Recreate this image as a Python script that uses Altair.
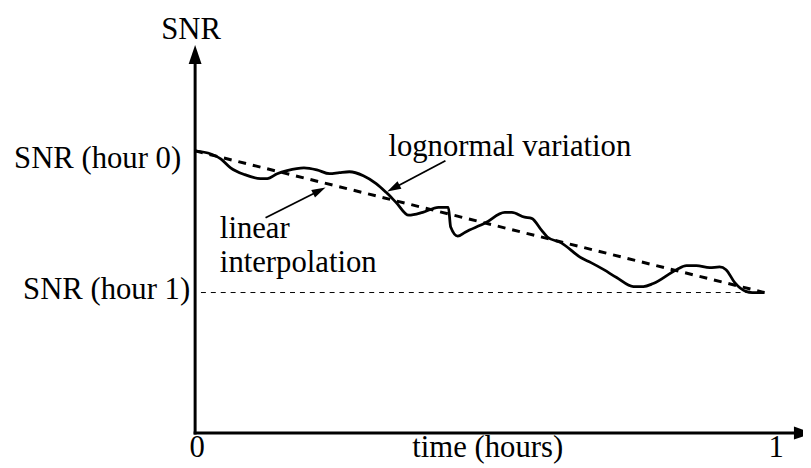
import math
import altair as alt
import pandas as pd

# ---- data (time in hours, SNR in arbitrary units) ----
snr_hour0 = 10.0
snr_hour1 = 4.98
t_end = 0.978

curve_t = [0.0, 0.027, 0.044, 0.061, 0.085, 0.112, 0.124, 0.141, 0.158, 0.187,
           0.209, 0.231, 0.248, 0.265, 0.289, 0.311, 0.328, 0.345, 0.367, 0.391,
           0.418, 0.435, 0.439, 0.451, 0.464, 0.498, 0.532, 0.544, 0.566, 0.578,
           0.595, 0.605, 0.629, 0.663, 0.680, 0.702, 0.724, 0.753, 0.770, 0.787,
           0.827, 0.844, 0.861, 0.884, 0.901, 0.912, 0.927, 0.946, 0.957, 0.978]
curve_snr = [10.0, 9.89, 9.72, 9.40, 9.16, 9.02, 9.02, 9.19, 9.30, 9.40,
             9.33, 9.19, 9.23, 9.26, 9.12, 8.84, 8.53, 8.18, 7.72, 7.82,
             8.00, 8.00, 7.30, 6.98, 7.12, 7.44, 7.82, 7.82, 7.65, 7.61,
             7.19, 6.95, 6.74, 6.21, 6.04, 5.79, 5.51, 5.19, 5.19, 5.30,
             5.79, 5.93, 5.93, 5.86, 5.89, 5.79, 5.33, 5.02, 4.98, 4.98]

left_labels = ["lognormal variation", "linear", "interpolation"]
left_x = [0.332, 0.0425, 0.0425]
left_y = [9.82, 6.91, 5.72]

right_labels = ["SNR (hour 0)", "SNR (hour 1)"]
right_x = [-0.024, -0.0085]
right_y = [9.40, 4.74]

center_labels = ["SNR", "0", "time (hours)", "1"]
center_x = [-0.007, 0.0034, 0.5026, 0.998]
center_y = [13.96, -0.84, -0.84, -0.84]

# annotation arrows: tail -> tip
ann_tail_x = [0.430, 0.121]
ann_tail_y = [9.65, 7.63]
ann_tip_x = [0.330, 0.224]
ann_tip_y = [8.56, 8.70]

# ---- layout ----
W, H = 803, 460
PX_PER_T = 588.0
PX_PER_SNR = 28.5
X0_PX = 189.0
Y0_PX = 427.0
xscale = alt.Scale(domain=[-X0_PX / PX_PER_T, (W - X0_PX) / PX_PER_T], nice=False, zero=False)
yscale = alt.Scale(domain=[(Y0_PX - H) / PX_PER_SNR, Y0_PX / PX_PER_SNR], nice=False, zero=False)

FONT = "'Liberation Serif', 'Times New Roman', 'DejaVu Serif', serif"
FS = 31


def X(field):
    return alt.X(field, type="quantitative", scale=xscale, axis=None)


def Y(field):
    return alt.Y(field, type="quantitative", scale=yscale, axis=None)


curve_df = pd.DataFrame({"t": curve_t, "snr": curve_snr, "i": range(len(curve_t))})
curve = alt.Chart(curve_df).mark_line(
    color="black", strokeWidth=2.8, interpolate="monotone", strokeJoin="round"
).encode(x=X("t"), y=Y("snr"), order="i:Q")

lin_df = pd.DataFrame({"t": [0.0, t_end], "snr": [snr_hour0, snr_hour1]})
linear = alt.Chart(lin_df).mark_line(
    color="black", strokeWidth=3, strokeDash=[8, 7]
).encode(x=X("t"), y=Y("snr"))

h_df = pd.DataFrame({"t": [0.01], "t2": [t_end], "snr": [snr_hour1]})
hline = alt.Chart(h_df).mark_rule(
    color="black", strokeWidth=1, strokeDash=[5, 5]
).encode(x=X("t"), x2="t2", y=Y("snr"))

# axes
axes_df = pd.DataFrame({"x": [0.0, 0.0], "x2": [0.0, 1.035], "y": [0.0, 0.0], "y2": [13.2, 0.0]})
axes = alt.Chart(axes_df).mark_rule(
    color="black", strokeWidth=3, strokeCap="square"
).encode(x=X("x"), x2="x2", y=Y("y"), y2="y2")

big_head = "M0,0L0.342,1L-0.342,1Z"
yhead = alt.Chart(pd.DataFrame({"x": [0.0], "y": [13.75]})).mark_point(
    shape=big_head, size=4 * 19 * 19, filled=True, color="black", opacity=1, angle=0
).encode(x=X("x"), y=Y("y"))
xhead = alt.Chart(pd.DataFrame({"x": [1.061], "y": [0.0]})).mark_point(
    shape=big_head, size=4 * 19 * 19, filled=True, color="black", opacity=1, angle=90
).encode(x=X("x"), y=Y("y"))

# annotation arrows
layers_ann = []
HEAD_LEN = 14
for tx, ty, hx, hy in zip(ann_tail_x, ann_tail_y, ann_tip_x, ann_tip_y):
    dxp = (hx - tx) * PX_PER_T
    dyp = -(hy - ty) * PX_PER_SNR
    L = math.hypot(dxp, dyp)
    ang = math.degrees(math.atan2(dxp, -dyp)) % 360
    back = 6.0
    ex = hx - (dxp / L) * back / PX_PER_T
    ey = hy + (dyp / L) * back / PX_PER_SNR
    seg = alt.Chart(pd.DataFrame({"x": [tx], "x2": [ex], "y": [ty], "y2": [ey]})).mark_rule(
        color="black", strokeWidth=1.8
    ).encode(x=X("x"), x2="x2", y=Y("y"), y2="y2")
    head = alt.Chart(pd.DataFrame({"x": [hx], "y": [hy]})).mark_point(
        shape="M0,0L0.3,1L-0.3,1Z", size=4 * HEAD_LEN * HEAD_LEN, filled=True,
        color="black", opacity=1, angle=ang
    ).encode(x=X("x"), y=Y("y"))
    layers_ann += [seg, head]


def text_layer(labels, xs, ys, align):
    df = pd.DataFrame({"label": labels, "x": xs, "y": ys})
    return alt.Chart(df).mark_text(
        font=FONT, fontSize=FS, color="black", align=align, baseline="alphabetic"
    ).encode(x=X("x"), y=Y("y"), text="label:N")


texts = [
    text_layer(left_labels, left_x, left_y, "left"),
    text_layer(right_labels, right_x, right_y, "right"),
    text_layer(center_labels, center_x, center_y, "center"),
]

chart = alt.layer(
    hline, linear, curve, axes, yhead, xhead, *layers_ann, *texts
).properties(
    width=W, height=H, autosize=alt.AutoSizeParams(type="none"), padding=0,
    background="white"
).configure_view(stroke=None)

chart.save("out.html", embed_options={"renderer": "svg", "actions": False})
